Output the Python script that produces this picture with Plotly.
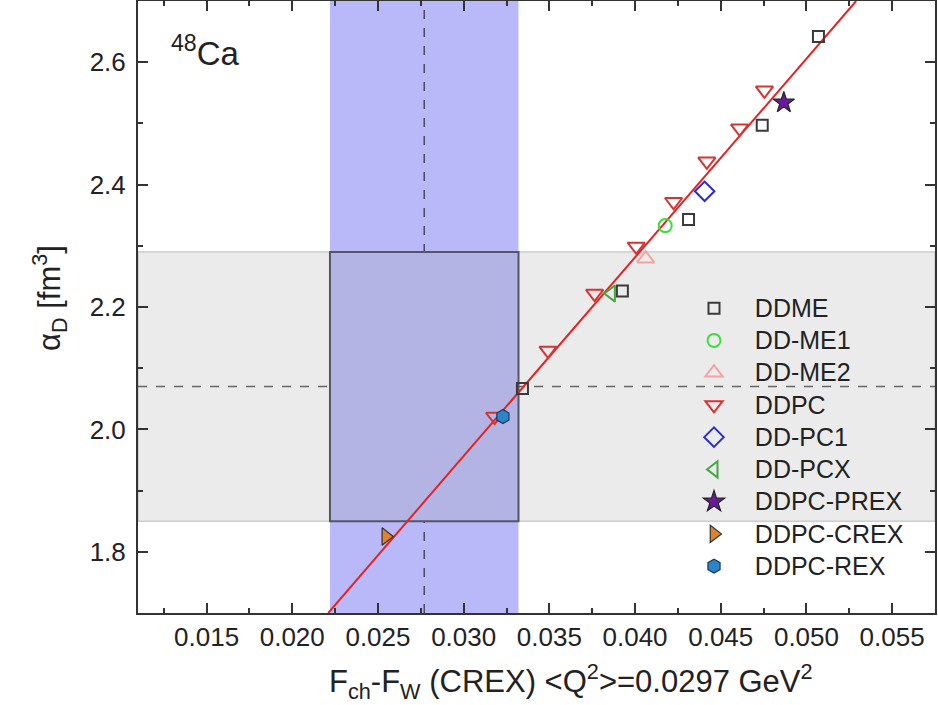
import plotly.graph_objects as go

# ---------------- data ----------------
ddme_x = [0.0507, 0.04742, 0.04312, 0.03926, 0.03343]
ddme_y = [2.642, 2.497, 2.343, 2.226, 2.067]
ddme1_x = [0.04176]
ddme1_y = [2.333]
ddme2_x = [0.04062]
ddme2_y = [2.279]
ddpc_x = [0.04755, 0.0461, 0.04419, 0.04225, 0.04007, 0.03764, 0.03492, 0.03181]
ddpc_y = [2.554, 2.492, 2.438, 2.372, 2.299, 2.222, 2.129, 2.021]
ddpc1_x = [0.04406]
ddpc1_y = [2.389]
ddpcx_x = [0.03862]
ddpcx_y = [2.222]
prex_x = [0.04868]
prex_y = [2.534]
crex_x = [0.02546]
crex_y = [1.825]
rex_x = [0.03229]
rex_y = [2.021]

fit_x = [0.0221, 0.0529]
fit_y = [1.70, 2.70]

crex_center = 0.0277
crex_err = 0.0055
alpha_center = 2.07
alpha_err = 0.22

FONT = "Liberation Sans, Arial, sans-serif"
LEG_TXT = 25

fig = go.Figure()

# fit line
fig.add_trace(go.Scatter(x=fit_x, y=fit_y, mode="lines", line=dict(color="#e32222", width=2),
                         showlegend=False, hoverinfo="skip"))

def add(x, y, name, symbol, size, color, lcolor=None, lw=2):
    m = dict(symbol=symbol, size=size, color=color, line=dict(width=lw))
    if lcolor is not None:
        m["line"]["color"] = lcolor
    label = '<span style="font-size:%dpx">\u00a0\u00a0\u00a0%s</span>' % (LEG_TXT, name)
    fig.add_trace(go.Scatter(x=x, y=y, mode="markers", name=label, marker=m))

add(ddme_x, ddme_y, "DDME", "square-open", 11, "#3a3a3a")
add(ddme1_x, ddme1_y, "DD-ME1", "circle-open", 13, "#3ddc3d")
add(ddme2_x, ddme2_y, "DD-ME2", "triangle-up-open", 15, "#f2a3a3")
add(ddpc_x, ddpc_y, "DDPC", "triangle-down-open", 15, "#d63333")
add(ddpc1_x, ddpc1_y, "DD-PC1", "diamond-open", 15, "#2a2ad0")
add(ddpcx_x, ddpcx_y, "DD-PCX", "triangle-left-open", 14, "#45a845")
add(prex_x, prex_y, "DDPC-PREX", "star", 16, "#6a1a9a", "#222222", 1.2)
add(crex_x, crex_y, "DDPC-CREX", "triangle-right", 15, "#e0822a", "#333333", 1.2)
add(rex_x, rex_y, "DDPC-REX", "hexagon", 14, "#2a86c8", "#1a3a5a", 1.2)

# bands
x0, x1 = crex_center - crex_err, crex_center + crex_err
y0, y1 = alpha_center - alpha_err, alpha_center + alpha_err
shapes = [
    dict(type="rect", xref="paper", yref="y", x0=0, x1=1, y0=y0, y1=y1,
         fillcolor="#ebebeb", line=dict(color="#b8b8b8", width=1), layer="below"),
    dict(type="rect", xref="x", yref="paper", x0=x0, x1=x1, y0=0, y1=1,
         fillcolor="#b9b9fa", line=dict(width=0), layer="below"),
    dict(type="rect", xref="x", yref="y", x0=x0, x1=x1, y0=y0, y1=y1,
         fillcolor="#b4b4e4", line=dict(color="#55556a", width=2), layer="below"),
    dict(type="line", xref="x", yref="paper", x0=crex_center, x1=crex_center, y0=0, y1=1,
         line=dict(color="#4a4a66", width=1.5, dash="dash"), layer="below"),
    dict(type="line", xref="paper", yref="y", x0=0, x1=1, y0=alpha_center, y1=alpha_center,
         line=dict(color="#666666", width=1.5, dash="dash"), layer="below"),
]

L, R, T, B = 138, 3, 1, 92
W, H = 938, 705
pw, ph = W - L - R, H - T - B

def px(xp):
    return (xp - L) / pw

def py(yp):
    return (H - B - yp) / ph

fig.update_layout(
    width=W, height=H,
    margin=dict(l=L, r=R, t=T, b=B, autoexpand=False),
    plot_bgcolor="white", paper_bgcolor="white",
    font=dict(family=FONT, size=26, color="#222222"),
    shapes=shapes,
    showlegend=True,
    legend=dict(x=px(694), y=py(287), xanchor="left", yanchor="top",
                bgcolor="rgba(0,0,0,0)", font=dict(size=22.5, family=FONT, color="#222222"),
                itemsizing="trace", tracegroupgap=0),
    annotations=[
        dict(text="F<sub>ch</sub>-F<sub>W</sub> (CREX) &lt;Q<sup>2</sup>&gt;=0.0297 GeV<sup>2</sup>",
             xref="paper", yref="paper", x=px(571), y=py(681), xanchor="center", yanchor="middle",
             showarrow=False, font=dict(size=31, family=FONT, color="#222222")),
        dict(text="α<sub>D</sub> [fm<sup>3</sup>]", textangle=-90,
             xref="paper", yref="paper", x=px(49), y=py(298), xanchor="center", yanchor="middle",
             showarrow=False, font=dict(size=31, family=FONT, color="#222222")),
        dict(text="<sup>48</sup>Ca", xref="paper", yref="paper", x=px(205), y=py(51),
             xanchor="center", yanchor="middle", showarrow=False,
             font=dict(size=33, family=FONT, color="#222222")),
    ],
)

fig.update_xaxes(range=[0.0110, 0.0575], tick0=0.015, dtick=0.005, tickformat=".3f",
                 ticks="inside", ticklen=10, tickwidth=2, tickcolor="#333333",
                 minor=dict(ticks="inside", ticklen=5, tickwidth=2, dtick=0.0025, tickcolor="#333333"),
                 showline=True, linewidth=2, linecolor="#333333", mirror="ticks",
                 showgrid=False, zeroline=False, ticklabelstandoff=0, automargin=False,
                 tickfont=dict(size=26))
fig.update_yaxes(range=[1.7, 2.7], tick0=1.8, dtick=0.2, tickformat=".1f",
                 ticks="inside", ticklen=10, tickwidth=2, tickcolor="#333333",
                 minor=dict(ticks="inside", ticklen=5, tickwidth=2, dtick=0.1, tickcolor="#333333"),
                 showline=True, linewidth=2, linecolor="#333333", mirror="ticks",
                 showgrid=False, zeroline=False, ticklabelstandoff=5, automargin=False,
                 tickfont=dict(size=26))

fig.write_html("out.html", config={"displayModeBar": False},
               post_script="document.body.style.margin='0';document.body.style.padding='0';")
